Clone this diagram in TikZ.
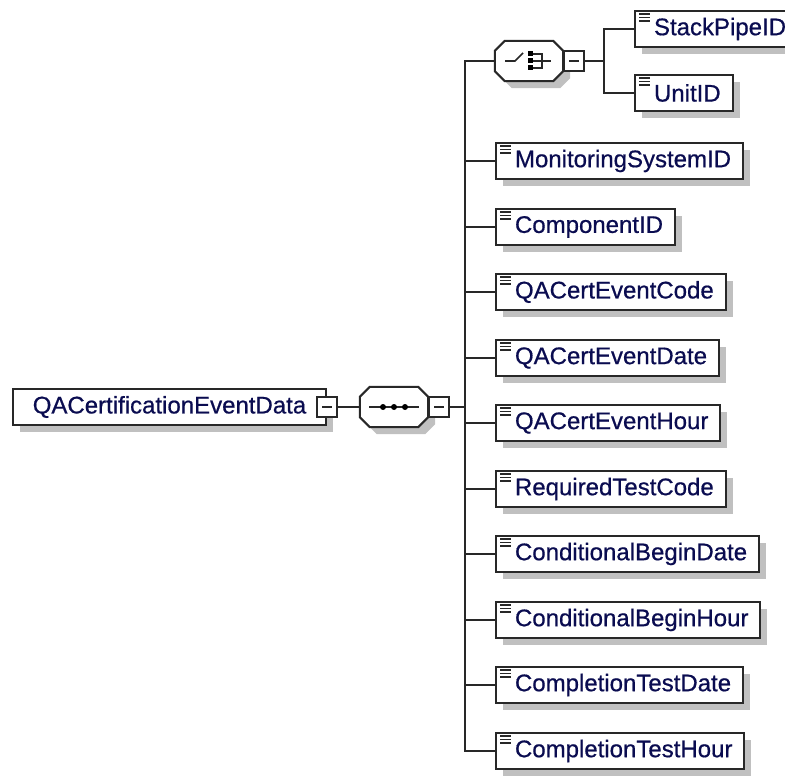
\documentclass[tikz,border=0pt]{standalone}
\usepackage{fontspec}
\newfontfamily\xsdfont[FakeBold=0.6]{Liberation Sans}
\usepackage{tikz}
\usetikzlibrary{positioning,shadows}
\definecolor{xsdline}{RGB}{40,40,40}
\definecolor{xsdtext}{RGB}{10,12,80}
\definecolor{xsdshadow}{RGB}{192,192,192}

% octagon frame of a compositor node
\newcommand\octframe[1]{%
  \draw[conn, fill=white, shade7] ([xshift=10pt]#1.north west) -- ([xshift=-10pt]#1.north east)
    -- ([yshift=-10pt]#1.north east) -- ([yshift=10pt]#1.south east) -- ([xshift=-10pt]#1.south east)
    -- ([xshift=10pt]#1.south west) -- ([yshift=10pt]#1.south west) -- ([yshift=-10pt]#1.north west) -- cycle;}

\tikzset{
  seqicon/.pic={
    \draw[xsdline, line width=1.6pt] (-25,0) -- (25,0);
    \foreach \d in {-11,0,11} \fill[black] (\d,0) circle (3pt);
  },
  choiceicon/.pic={
    \draw[xsdline, line width=1.6pt] (-24,0) -- (-14,0) -- (-6,-8);
    \foreach \d in {-7,0,7} \fill[black] (-1.5,\d-2.5) rectangle ++(5,5);
    \draw[xsdline, line width=1.4pt] (4,-7) -- (13,-7) -- (13,7) -- (4,7);
    \draw[xsdline, line width=1.4pt] (4,0) -- (22,0);
  }
}

\begin{document}
\begin{tikzpicture}[
    x=1pt, y=-1pt,
    shade7/.style={drop shadow={shadow xshift=7pt, shadow yshift=-7pt, fill=xsdshadow, opacity=1}},
    box/.style={draw=xsdline, line width=2pt, fill=white, minimum height=36pt, inner ysep=0pt, inner xsep=0pt,
        font=\xsdfont\fontsize{24}{28}\selectfont, text=xsdtext, shade7},
    rootbox/.style={box, anchor=west, minimum width=313pt},
    elem/.style={box, anchor=west,
        execute at begin node={\hspace*{19pt}}, execute at end node={\hspace*{12pt}},
        path picture={\foreach \d in {3,6.5,10}
            \draw[xsdline, line width=1.4pt] ([xshift=4pt, yshift=-\d pt]path picture bounding box.north west) -- ++(11,0);}},
    comp/.style={minimum width=68pt, minimum height=40pt, inner sep=0pt},
    minus/.style={draw=xsdline, line width=1.6pt, fill=white, minimum size=20pt, inner sep=0pt,
        path picture={\draw[xsdline, line width=1.6pt] ([xshift=-5pt]path picture bounding box.center) -- ([xshift=5pt]path picture bounding box.center);}},
    conn/.style={xsdline, line width=2pt}
]
\useasboundingbox (0,0) rectangle (785,778);

% root element and sequence
\node[rootbox] (root) at (12,407) {QACertificationEventData};
\node[minus] (rootminus) at (root.east) {};
\node[comp, right=22pt of rootminus] (seq) {};
\octframe{seq}
\pic at (seq) {seqicon};
\node[minus, right=0pt of seq] (seqminus) {};

% choice
\node[comp] (choice) at (529,61) {};
\octframe{choice}
\pic at (choice) {choiceicon};
\node[minus, right=0pt of choice] (choiceminus) {};
\node[elem] (spid) at (634,29) {StackPipeID};
\node[elem] (unit) at (634,93) {UnitID};

% sequence children
\foreach \lbl [count=\i from 0] in {MonitoringSystemID, ComponentID, QACertEventCode, QACertEventDate,
    QACertEventHour, RequiredTestCode, ConditionalBeginDate, ConditionalBeginHour,
    CompletionTestDate, CompletionTestHour}
  \node[elem] (e\i) at (495,{round(161+65.55*\i)}) {\lbl};

% connectors
\coordinate (trunk) at (465,0);
\coordinate (branch) at (604,0);
\draw[conn] (rootminus) -- (seq);
\draw[conn] (seqminus) -- (seqminus -| trunk);
\draw[conn] (choice.west) -| (e9.west -| trunk) -- (e9.west);
\foreach \i in {0,...,8}
  \draw[conn] (e\i.west) -- (e\i.west -| trunk);
\draw[conn] (choiceminus) -- (choiceminus -| branch);
\draw[conn] (spid.west) -| (unit.west -| branch) -- (unit.west);
\end{tikzpicture}
\end{document}
